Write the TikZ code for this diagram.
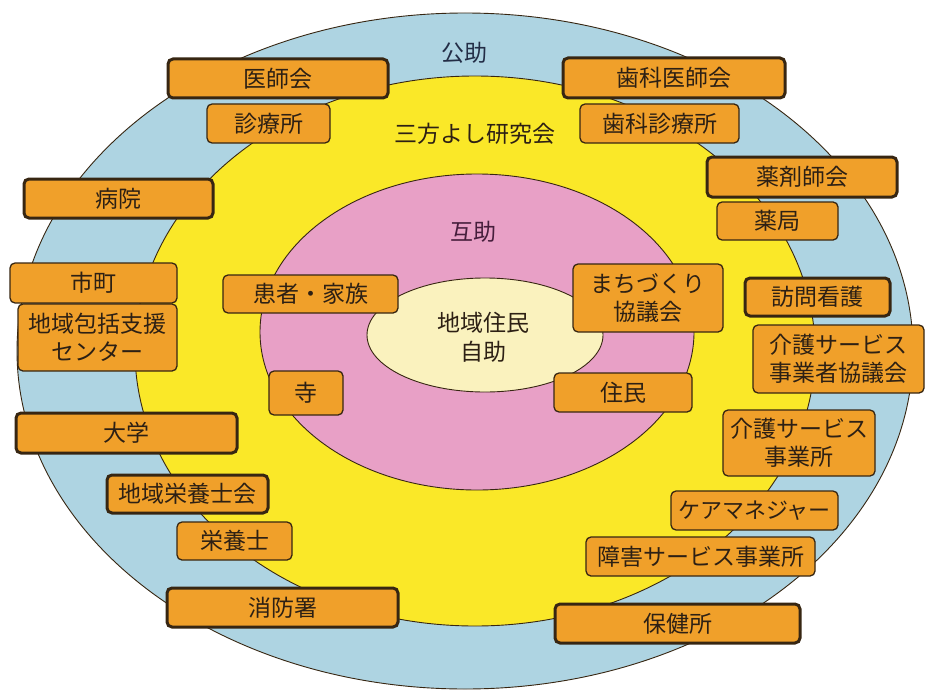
\documentclass[tikz,border=0pt]{standalone}
\usepackage{fontspec}
\setmainfont{Noto Sans CJK JP}
\definecolor{bluec}{RGB}{174,212,226}
\definecolor{yellowc}{RGB}{250,232,40}
\definecolor{pinkc}{RGB}{232,160,198}
\definecolor{creamc}{RGB}{250,242,190}
\definecolor{boxc}{RGB}{240,160,42}
\definecolor{borderc}{RGB}{55,38,18}
\definecolor{textc}{RGB}{45,32,20}
\definecolor{navyc}{RGB}{35,45,70}
\definecolor{purplec}{RGB}{70,30,60}
\tikzset{
  ring/.style={draw=borderc, line width=0.9pt},
  boxbase/.style={fill=boxc, rounded corners=5pt, inner sep=0pt, text=textc,
    font=\fontsize{23}{28}\selectfont, align=center},
  thinbox/.style={boxbase, draw=borderc, line width=1.3pt},
  thickbox/.style={boxbase, draw=borderc, line width=3pt},
  lbl/.style={font=\fontsize{23}{29}\selectfont, text=textc, align=center, inner sep=0pt}
}
\begin{document}
\begin{tikzpicture}[x=1pt,y=-1pt]
\useasboundingbox (0,0) rectangle (925,690);
\fill[white] (0,0) rectangle (925,690);
% rings
\draw[ring, fill=bluec] (465,351) ellipse [x radius=448pt, y radius=338pt];
\draw[ring, fill=yellowc] (475,351) ellipse [x radius=340pt, y radius=275pt];
\draw[ring, fill=pinkc] (477,332) ellipse [x radius=217pt, y radius=158pt];
\draw[ring, fill=creamc] (485,335) ellipse [x radius=118pt, y radius=57pt];
% ring labels
\node[lbl, text=navyc] (kojo) at (464,53) {公助};
\node[lbl] (sanpo) at (475,134) {三方よし研究会};
\node[lbl, text=purplec] (gojo) at (473,232) {互助};
\node[lbl] (jijo) at (483,337) {地域住民\\自助};
% boxes
\node[thickbox, minimum width=220pt, minimum height=39pt] (ishikai) at (278,78.5) {医師会};
\node[thinbox, minimum width=123pt, minimum height=39pt] (shinryo) at (268.5,123.5) {診療所};
\node[thickbox, minimum width=189pt, minimum height=39pt] (byoin) at (118.5,198.5) {病院};
\node[thickbox, minimum width=222pt, minimum height=40pt] (shikaishi) at (674,78) {歯科医師会};
\node[thinbox, minimum width=159pt, minimum height=39pt] (shikashin) at (659.5,123.5) {歯科診療所};
\node[thickbox, minimum width=190pt, minimum height=40pt] (yakuzai) at (802,177) {薬剤師会};
\node[thinbox, minimum width=121pt, minimum height=38pt] (yakkyoku) at (777.5,221) {薬局};
\node[thinbox, minimum width=167pt, minimum height=40pt] (shicho) at (93.5,283) {市町};
\node[thinbox, minimum width=159pt, minimum height=67pt] (hokatsu) at (97.5,337.5) {地域包括支援\\センター};
\node[thinbox, minimum width=175pt, minimum height=38pt] (kanja) at (310.5,294) {患者・家族};
\node[thinbox, minimum width=74pt, minimum height=44pt] (tera) at (306,393) {寺};
\node[thickbox, minimum width=221pt, minimum height=40pt] (daigaku) at (126.5,433) {大学};
\node[thinbox, minimum width=150pt, minimum height=68pt] (machi) at (648,298) {まちづくり\\協議会};
\node[thinbox, minimum width=138pt, minimum height=39pt] (jumin) at (623,392.5) {住民};
\node[thickbox, minimum width=145pt, minimum height=38pt] (homon) at (817.5,297) {訪問看護};
\node[thinbox, minimum width=171pt, minimum height=68pt] (kaigokyo) at (838.5,359) {介護サービス\\事業者協議会};
\node[thinbox, minimum width=152pt, minimum height=66pt] (kaigojig) at (799,443) {介護サービス\\事業所};
\node[thickbox, minimum width=161pt, minimum height=38pt] (eiyokai) at (187.5,494) {地域栄養士会};
\node[thinbox, minimum width=115pt, minimum height=38pt] (eiyoshi) at (234.5,541) {栄養士};
\node[thickbox, minimum width=231pt, minimum height=39pt] (shobo) at (282.5,607.5) {消防署};
\node[thinbox, minimum width=167pt, minimum height=39pt, font=\fontsize{22}{28}\selectfont] (caremane) at (754.5,510.5) {ケアマネジャー};
\node[thinbox, minimum width=229pt, minimum height=39pt] (shogai) at (700.5,556.5) {障害サービス事業所};
\node[thickbox, minimum width=245pt, minimum height=39pt] (hokenjo) at (677.5,623.5) {保健所};
\end{tikzpicture}
\end{document}
